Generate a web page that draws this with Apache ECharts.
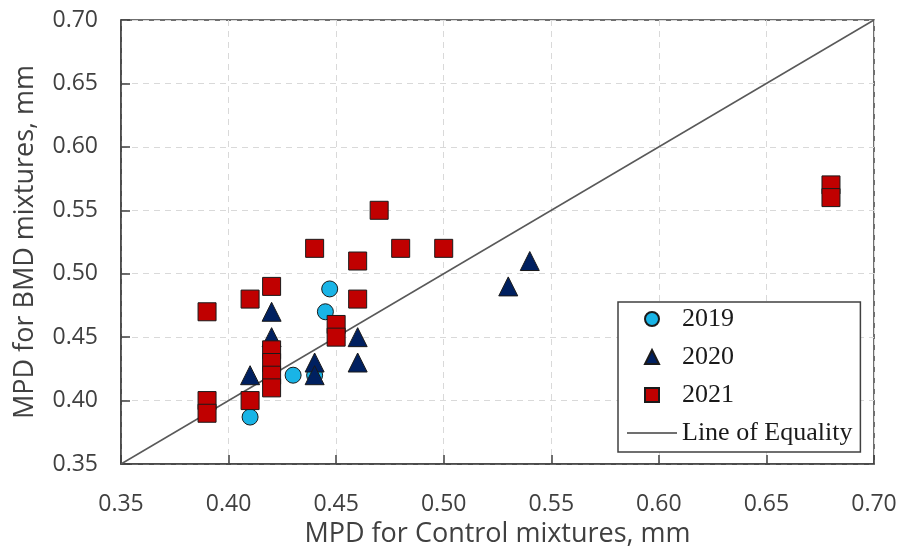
<!DOCTYPE html>
<html>
<head>
<meta charset="utf-8">
<script src="https://cdn.jsdelivr.net/npm/echarts@6/dist/echarts.min.js"></script>
<style>
  html, body { margin: 0; padding: 0; background: #fff; }
  #chart { width: 901px; height: 550px; }
</style>
</head>
<body>
<div id="chart"></div>
<script>
// [MPD control, MPD BMD] pairs
const points2019 = [[0.41, 0.387], [0.43, 0.42], [0.44, 0.42], [0.445, 0.47], [0.447, 0.488]]
const points2020 = [
  [0.41, 0.42], [0.42, 0.47], [0.42, 0.45], [0.44, 0.43], [0.44, 0.42],
  [0.46, 0.45], [0.46, 0.43], [0.53, 0.49], [0.54, 0.51],
]
const points2021 = [
  [0.39, 0.47], [0.39, 0.40], [0.39, 0.39], [0.41, 0.48], [0.41, 0.40],
  [0.42, 0.49], [0.42, 0.44], [0.42, 0.43], [0.42, 0.42], [0.42, 0.41],
  [0.44, 0.52], [0.45, 0.46], [0.45, 0.45], [0.46, 0.51], [0.46, 0.48],
  [0.47, 0.55], [0.48, 0.52], [0.50, 0.52], [0.68, 0.57], [0.68, 0.56],
]
const equalityLine = [[0.35, 0.35], [0.70, 0.70]]
const axisMin = 0.35
const axisMax = 0.70
const axisStep = 0.05

const axisColor = '#404040'
const labelFont = 'Open Sans'

// built-in legend symbols get stretched to itemWidth, paths keep their aspect
const legendIcons = {
  circle: 'path://M0,7A7,7,0,1,0,14,7A7,7,0,1,0,0,7Z',
  triangle: 'path://M7,0L14,14L0,14Z',
  rect: 'path://M0,0H14V14H0Z',
  line: 'path://M0 0H50V1.5H0Z',
}

const valueAxis = (name, nameGap, labelMargin) => ({
  type: 'value',
  min: axisMin,
  max: axisMax,
  interval: axisStep,
  name,
  nameLocation: 'middle',
  nameGap,
  nameTextStyle: { fontFamily: labelFont, fontSize: 27, color: axisColor },
  axisLine: { show: true, lineStyle: { color: axisColor, width: 1.5 } },
  axisTick: { show: true, inside: true, length: 9, lineStyle: { color: axisColor, width: 1.5 } },
  axisLabel: {
    fontFamily: labelFont,
    fontSize: 23,
    color: axisColor,
    margin: labelMargin,
    formatter: (v) => v.toFixed(2),
  },
  splitLine: { show: true, lineStyle: { color: '#d9d9d9', type: [6, 5], width: 1 } },
})

const scatter = (name, data, symbol, size, color) => ({
  name,
  type: 'scatter',
  data,
  symbol,
  symbolSize: size,
  z: 3,
  itemStyle: { color, borderColor: '#1a1a1a', borderWidth: 1, opacity: 1 },
})

const chart = echarts.init(document.getElementById('chart'), null, { renderer: 'canvas' })

chart.setOption({
  animation: false,
  backgroundColor: '#fff',
  grid: {
    left: 121,
    right: 27,
    top: 20,
    bottom: 86,
    outerBoundsMode: 'none',
    show: true,
    borderColor: axisColor,
    borderWidth: 1.5,
  },
  xAxis: valueAxis('MPD for Control mixtures, mm', 50, 29),
  yAxis: valueAxis('MPD for BMD mixtures, mm', 82, 23),
  legend: {
    data: [
      { name: '2019', icon: legendIcons.circle },
      { name: '2020', icon: legendIcons.triangle },
      { name: '2021', icon: legendIcons.rect },
      { name: 'Line of Equality', icon: legendIcons.line },
    ],
    orient: 'vertical',
    left: 618,
    top: 302,
    padding: [3, 8, 5, 9],
    itemWidth: 50,
    itemHeight: 14,
    itemGap: 10,
    backgroundColor: '#fff',
    borderColor: axisColor,
    borderWidth: 1.5,
    borderRadius: 0,
    textStyle: { fontFamily: 'Liberation Serif', fontSize: 26, lineHeight: 28, color: '#1a1a1a' },
  },
  series: [
    {
      name: 'Line of Equality',
      type: 'line',
      data: equalityLine,
      symbol: 'none',
      showSymbol: false,
      z: 1,
      lineStyle: { color: '#595959', width: 1.5 },
      itemStyle: { color: '#404040' },
    },
    scatter('2019', points2019, 'circle', 16, '#19b4e6'),
    scatter('2020', points2020, 'triangle', 19, '#002060'),
    scatter('2021', points2021, 'rect', 18, '#c00000'),
  ],
})
</script>
</body>
</html>
